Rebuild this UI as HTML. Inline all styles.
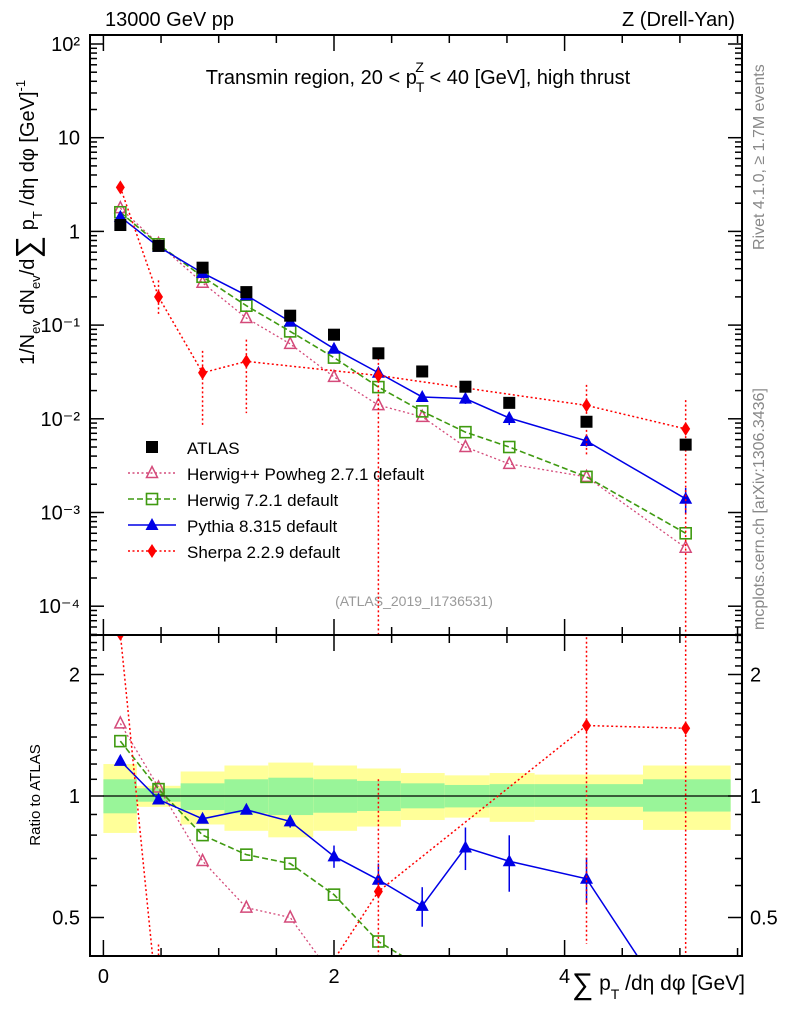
<!DOCTYPE html>
<html><head><meta charset="utf-8"><style>
html,body{margin:0;background:#fff;overflow:hidden;width:786px;height:1024px}
svg{display:block;font-family:"Liberation Sans",sans-serif}
</style></head><body>
<svg id="c" width="786" height="1024" viewBox="0 0 786 1024" overflow="hidden">
<defs>
<clipPath id="cm"><rect x="90" y="35" width="652" height="600"/></clipPath>
<clipPath id="cr"><rect x="90" y="635" width="652" height="321"/></clipPath>
</defs>
<text x="105" y="26" font-size="20">13000 GeV pp</text>
<text x="735" y="26" font-size="20" text-anchor="end">Z (Drell-Yan)</text>
<text x="418" y="84" font-size="20" text-anchor="middle">Transmin region, 20 &lt; p<tspan font-size="14" dy="8" dx="-1">T</tspan><tspan font-size="14" dy="-20" dx="-9">Z</tspan><tspan dy="12"> &lt; 40 [GeV], high thrust</tspan></text>
<text transform="translate(764,250) rotate(-90)" font-size="16" fill="#888">Rivet 4.1.0, ≥ 1.7M events</text>
<text transform="translate(764,630) rotate(-90)" font-size="16" fill="#888">mcplots.cern.ch [arXiv:1306.3436]</text>
<text x="414" y="606" font-size="14" fill="#999" text-anchor="middle">(ATLAS_2019_I1736531)</text>
<text transform="translate(34,365) rotate(-90)" font-size="20">1/N<tspan font-size="13" dy="6">ev</tspan><tspan dy="-6"> dN</tspan><tspan font-size="13" dy="6">ev</tspan><tspan dy="-6">/d</tspan><tspan font-size="32" dy="4">∑</tspan><tspan dy="-4"> p</tspan><tspan font-size="13" dy="8">T</tspan><tspan dy="-8"> /dη dφ  [GeV]</tspan><tspan font-size="13" dy="-9">-1</tspan></text>
<text transform="translate(40,795) rotate(-90)" font-size="15" text-anchor="middle">Ratio to ATLAS</text>
<text x="745" y="990" font-size="21" text-anchor="end"><tspan font-size="30" dy="4">∑</tspan><tspan dy="-4"> p</tspan><tspan font-size="14" dy="9">T</tspan><tspan dy="-9"> /dη dφ [GeV]</tspan></text>
<g id="legend"></g>
</svg>
<script>
const xCenters=[0.147,0.478,0.86,1.24,1.62,2.0,2.385,2.765,3.14,3.52,4.19,5.05];
const binEdges=[0,0.29,0.67,1.05,1.43,1.82,2.2,2.58,2.96,3.35,3.74,4.68,5.44];
const atlas=[1.17,0.70,0.41,0.225,0.126,0.079,0.050,0.032,0.022,0.0148,0.0093,0.0053];
const herwigpp=[1.77,0.735,0.283,0.119,0.063,0.028,0.014,0.0105,0.005,0.0033,0.0024,0.00042];
const herwig7=[1.60,0.728,0.328,0.161,0.0857,0.045,0.0218,0.012,0.0072,0.005,0.0024,0.0006];
const pythia=[1.43,0.686,0.36,0.208,0.109,0.056,0.031,0.0171,0.0164,0.0102,0.0058,0.0014];
const pythiaRelErr=[0,0,0.015,0.02,0.03,0.045,0.06,0.06,0.09,0.11,0.08,0.08];
const sherpa=[2.95,0.2,0.031,0.041,null,null,0.029,null,null,null,0.0139,0.0078];
const sherpaLo=[2.95,0.13,0.0086,0.0115,null,null,1e-6,null,null,null,0.004,1e-6];
const sherpaHi=[2.95,0.3,0.053,0.07,null,null,0.055,null,null,null,0.023,0.0158];
const yellowHi=[1.20,1.06,1.15,1.19,1.21,1.19,1.17,1.14,1.125,1.14,1.13,1.19];
const yellowLo=[0.81,0.94,0.85,0.82,0.79,0.82,0.84,0.872,0.884,0.863,0.872,0.824];
const greenHi=[1.10,1.045,1.075,1.10,1.11,1.10,1.09,1.075,1.065,1.07,1.07,1.10];
const greenLo=[0.906,0.968,0.923,0.906,0.897,0.909,0.918,0.932,0.937,0.94,0.94,0.915];
const mainTicks=["10²","10","1","10⁻¹","10⁻²","10⁻³","10⁻⁴"];
const ratioTickVals=[2,1,0.5];
const xTickVals=[0,2,4];

const NS="http://www.w3.org/2000/svg";
const svg=document.getElementById('c');
const X=v=>103.4+v*115.3;
const YM=v=>44+(2-Math.log10(v))*93.7;
const YR=r=>796-Math.log2(r)*121.5;
const L=90,R=742,T=35,MB=635,RB=956;
function mk(tag,at,parent){const e=document.createElementNS(NS,tag);for(const k in at)e.setAttribute(k,at[k]);(parent||svg).appendChild(e);return e;}
const gm=mk('g',{'clip-path':'url(#cm)'});


const gr=mk('g',{'clip-path':'url(#cr)'});



for(let i=0;i<yellowHi.length;i++){
  const x0=X(binEdges[i]),x1=X(binEdges[i+1]);
  let e=mk('rect',{x:x0,y:YR(yellowHi[i]),width:x1-x0,height:YR(yellowLo[i])-YR(yellowHi[i]),fill:'#ffff99'},gr);
  
  
  e=mk('rect',{x:x0,y:YR(greenHi[i]),width:x1-x0,height:YR(greenLo[i])-YR(greenHi[i]),fill:'#99f599'},gr);
  
  
}
let one=mk('line',{x1:X(0),x2:R,y1:YR(1),y2:YR(1),stroke:'#000','stroke-width':1.3},gr);



function marker(type,x,y,col,g,name){
  let e;const s=6;
  if(type==='sq') e=mk('rect',{x:x-s,y:y-s,width:2*s,height:2*s,fill:'#000'},g);
  else if(type==='osq') e=mk('rect',{x:x-5.5,y:y-5.5,width:11,height:11,fill:'none',stroke:col,'stroke-width':1.6},g);
  else if(type==='otri') e=mk('polygon',{points:`${x},${y-6.5} ${x+5.5},${y+4.5} ${x-5.5},${y+4.5}`,fill:'none',stroke:col,'stroke-width':1.5},g);
  else if(type==='tri') e=mk('polygon',{points:`${x},${y-7} ${x+6.5},${y+5} ${x-6.5},${y+5}`,fill:col},g);
  else e=mk('polygon',{points:`${x},${y-7} ${x+4.5},${y} ${x},${y+7} ${x-4.5},${y}`,fill:col},g);
  
  
}
function series(vals,type,col,dash,width,name,ratio,lo,hi){
  const g=ratio?gr:gm;const Y=ratio?YR:YM;
  const pts=[];
  vals.forEach((v,i)=>{if(v==null)return;const val=ratio?v/atlas[i]:v;pts.push([X(xCenters[i]),Y(val),i,val]);});
  if(lo){pts.forEach(p=>{const i=p[2];const a=ratio?lo[i]/atlas[i]:lo[i],b=ratio?hi[i]/atlas[i]:hi[i];
    if(a===b)return;
    const e=mk('line',{x1:p[0],x2:p[0],y1:Y(b),y2:Y(a),stroke:col,'stroke-width':1.5,'stroke-dasharray':dash||'none'},g);
    
    });}
  const pl=mk('polyline',{points:pts.map(p=>p[0]+','+p[1]).join(' '),fill:'none',stroke:col,'stroke-width':width,'stroke-dasharray':dash||'none'},g);
  
  
  pts.forEach(p=>marker(type,p[0],p[1],col,g,name+'-marker'));
}
const pLo=pythia.map((v,i)=>v-pythiaRelErr[i]*atlas[i]),pHi=pythia.map((v,i)=>v+pythiaRelErr[i]*atlas[i]);
[false,true].forEach(r=>{
  series(herwigpp,'otri','#d44a7a','2,2.5',1.3,'herwigpp',r);
  series(herwig7,'osq','#3f9a10','6,3',1.6,'herwig7',r);
  series(pythia,'tri','#0000e6',null,1.5,'pythia',r,pLo,pHi);
  series(sherpa,'dia','#ff0000','2,2.5',1.5,'sherpa',r,sherpaLo,sherpaHi);
});
atlas.forEach((v,i)=>marker('sq',X(xCenters[i]),YM(v),'#000',gm,'atlas-marker'));

[[T,MB],[MB,RB]].forEach(([a,b],k)=>{
  const e=mk('rect',{x:L,y:a,width:R-L,height:b-a,fill:'none',stroke:'#000','stroke-width':2});
  
  
});
function ln(x1,y1,x2,y2,n){const e=mk('line',{x1,y1,x2,y2,stroke:'#000','stroke-width':1.5});}
for(let v=0;v<=5.5;v+=0.5){const x=X(v);const len=(v%2===0)?16:8;
  [[T,1],[MB,-1],[MB,1],[RB,-1]].forEach(([y,d])=>ln(x,y,x,y+d*len,'x-tick'));}
xTickVals.forEach(v=>{const t=mk('text',{x:X(v),y:983,'font-size':20,'text-anchor':'middle'});t.textContent=v;
  });
for(let d=-5;d<=2;d++){for(let m=1;m<10;m++){const v=m*Math.pow(10,d);const y=YM(v);if(y<T||y>MB)continue;
  const len=m===1?14:7;ln(L,y,L+len,y,'y-tick');ln(R,y,R-len,y,'y-tick');}}
mainTicks.forEach((s,i)=>{const t=mk('text',{x:80,y:YM(Math.pow(10,2-i))+7,'font-size':20,'text-anchor':'end'});t.textContent=s;
  });
for(let k=4;k<=25;k++){const r=k/10;const y=YR(r);if(y<T||y>RB)continue;const len=(k===5||k===10||k===20)?14:7;
  ln(L,y,L+len,y,'ratio-y-tick');ln(R,y,R-len,y,'ratio-y-tick');}
ratioTickVals.forEach(v=>{[[80,'end'],[750,'start']].forEach(([x,a])=>{const t=mk('text',{x,y:YR(v)+7,'font-size':20,'text-anchor':a});t.textContent=v;
  });});
const lg=document.getElementById('legend');
const leg=[['sq','#000',null,'ATLAS','atlas'],['otri','#d44a7a','2,2.5','Herwig++ Powheg 2.7.1 default','herwigpp'],['osq','#3f9a10','6,3','Herwig 7.2.1 default','herwig7'],['tri','#0000e6',null,'Pythia 8.315 default','pythia'],['dia','#ff0000','2,2.5','Sherpa 2.2.9 default','sherpa']];
leg.forEach((e,i)=>{const y=447+i*26;
  if(i>0){const l=mk('line',{x1:128,x2:176,y1:y,y2:y,stroke:e[1],'stroke-width':1.5,'stroke-dasharray':e[2]||'none'},lg);
    }
  marker(e[0],152,y,e[1],lg,'legend-marker-'+e[4]);
  const t=mk('text',{x:187,y:y+7,'font-size':17},lg);t.textContent=e[3];
  });
</script>
</body></html>
